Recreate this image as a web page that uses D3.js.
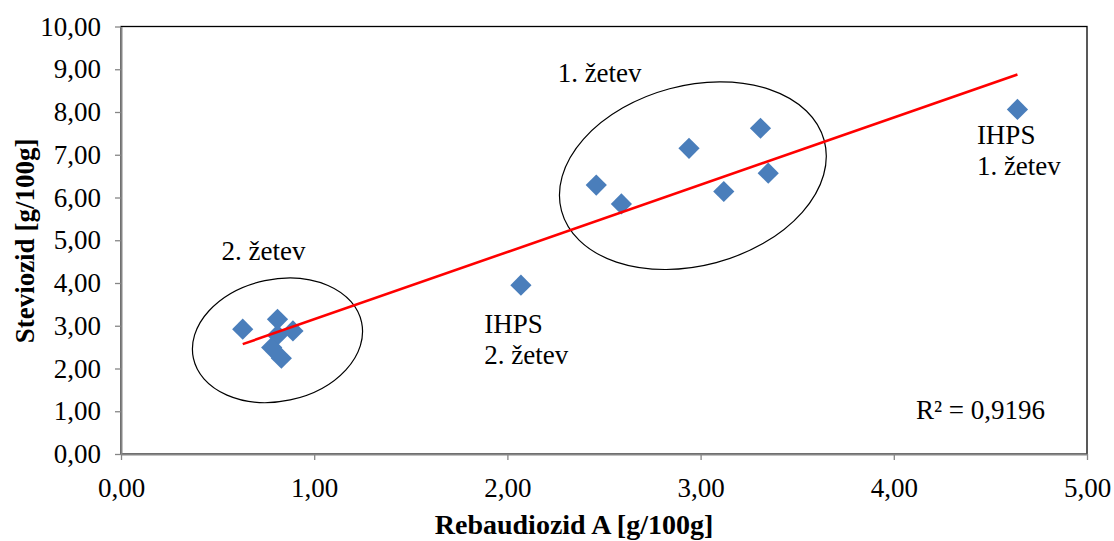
<!DOCTYPE html>
<html>
<head>
<meta charset="utf-8">
<script src="https://cdn.jsdelivr.net/npm/d3@7"></script>
<style>
  html, body { margin: 0; padding: 0; background: #fff; }
  svg text { font-family: "Liberation Serif", "Times New Roman", serif; fill: #000; }
</style>
</head>
<body>
<svg id="chart" width="1114" height="541"></svg>
<script>
// Rebaudiozid A vs. Steviozid content, g/100g
const rebaudiozidA = [0.63, 0.81, 0.81, 0.89, 0.78, 0.83, 2.07, 2.46, 2.59, 2.94, 3.12, 3.31, 3.35, 4.64];
const steviozid    = [2.92, 3.15, 2.78, 2.88, 2.49, 2.24, 3.95, 6.29, 5.85, 7.15, 6.14, 7.62, 6.57, 8.06];

const xTicks = [0, 1, 2, 3, 4, 5];
const yTicks = [0, 1, 2, 3, 4, 5, 6, 7, 8, 9, 10];

const xTitle = "Rebaudiozid A [g/100g]";
const yTitle = "Steviozid [g/100g]";
const r2Label = "R² = 0,9196";

// Group annotations: label text and anchor in data units
const groupLabels = [
  { lines: ["2. žetev"], x: 0.52, y: 4.54 },
  { lines: ["1. žetev"], x: 2.26, y: 8.71 },
  { lines: ["IHPS", "2. žetev"], x: 1.88, y: 2.84 },
  { lines: ["IHPS", "1. žetev"], x: 4.43, y: 7.25 }
];
// Grouping ellipses: centre in data units, radii in px, rotation in degrees
const groupEllipses = [
  { cx: 0.81, cy: 2.66, rx: 86, ry: 61, rot: -12 },
  { cx: 2.96, cy: 6.51, rx: 136, ry: 90, rot: -15 }
];

const svg = d3.select("#chart");
const m = { left: 121, right: 1087, top: 26.5, bottom: 454 };

const x = d3.scaleLinear().domain([0, 5]).range([m.left, m.right]);
const y = d3.scaleLinear().domain([0, 10]).range([m.bottom, m.top]);
const fmt = v => d3.format(".2f")(v).replace(".", ",");

// Plot area frame
svg.append("rect")
  .attr("x", m.left).attr("y", m.top)
  .attr("width", m.right - m.left).attr("height", m.bottom - m.top)
  .attr("fill", "none").attr("stroke", "#000").attr("stroke-width", 1.3);

// Axes
const xAxis = svg.append("g")
  .attr("transform", `translate(0,${m.bottom})`)
  .call(d3.axisBottom(x).tickValues(xTicks).tickFormat(fmt).tickSize(6).tickSizeOuter(0));
const yAxis = svg.append("g")
  .attr("transform", `translate(${m.left},0)`)
  .call(d3.axisLeft(y).tickValues(yTicks).tickFormat(fmt).tickSize(6).tickSizeOuter(0));

[xAxis, yAxis].forEach(g => {
  g.select(".domain").attr("stroke", "#868686").attr("stroke-width", 2);
  g.selectAll(".tick line").attr("stroke", "#868686").attr("stroke-width", 1.3);
  g.selectAll(".tick text")
    .style("font-family", '"Liberation Serif", serif')
    .style("font-size", "27px").attr("fill", "#000");
});
xAxis.selectAll(".tick text").attr("y", 24);
yAxis.selectAll(".tick text").attr("x", -20);

// Axis titles
svg.append("text")
  .attr("x", (m.left + m.right) / 2 - 30).attr("y", 534)
  .attr("text-anchor", "middle")
  .style("font-size", "28px").style("font-weight", "bold")
  .text(xTitle);
svg.append("text")
  .attr("transform", `translate(34,241) rotate(-90)`)
  .attr("text-anchor", "middle")
  .style("font-size", "27px").style("font-weight", "bold")
  .text(yTitle);

// Linear trendline (least squares), spanning the data range
const n = rebaudiozidA.length;
const mx = d3.mean(rebaudiozidA), my = d3.mean(steviozid);
let sxy = 0, sxx = 0;
for (let i = 0; i < n; i++) {
  sxy += (rebaudiozidA[i] - mx) * (steviozid[i] - my);
  sxx += (rebaudiozidA[i] - mx) ** 2;
}
const slope = sxy / sxx, intercept = my - slope * mx;
const [x0, x1] = d3.extent(rebaudiozidA);

// Grouping ellipses
svg.append("g").selectAll("ellipse")
  .data(groupEllipses)
  .join("ellipse")
  .attr("transform", d => `translate(${x(d.cx)},${y(d.cy)}) rotate(${d.rot})`)
  .attr("rx", d => d.rx).attr("ry", d => d.ry)
  .attr("fill", "none").attr("stroke", "#000").attr("stroke-width", 1.2);

// Data points: diamonds
const pts = rebaudiozidA.map((v, i) => [v, steviozid[i]]);
svg.append("g").selectAll("path")
  .data(pts)
  .join("path")
  .attr("d", d3.symbol(d3.symbolSquare, 225))
  .attr("transform", d => `translate(${x(d[0])},${y(d[1])}) rotate(45)`)
  .attr("fill", "#4A7EBB");

svg.append("line")
  .attr("x1", x(x0)).attr("y1", y(intercept + slope * x0))
  .attr("x2", x(x1)).attr("y2", y(intercept + slope * x1))
  .attr("stroke", "#FF0000").attr("stroke-width", 2.6);

// Group labels
groupLabels.forEach(l => {
  const t = svg.append("text")
    .attr("x", x(l.x)).attr("y", y(l.y))
    .style("font-size", "27px");
  l.lines.forEach((s, i) => {
    t.append("tspan").attr("x", x(l.x)).attr("dy", i === 0 ? 0 : 31).text(s);
  });
});

// Coefficient of determination
svg.append("text")
  .attr("x", 916).attr("y", 419)
  .style("font-size", "27px")
  .text(r2Label);
</script>
</body>
</html>
